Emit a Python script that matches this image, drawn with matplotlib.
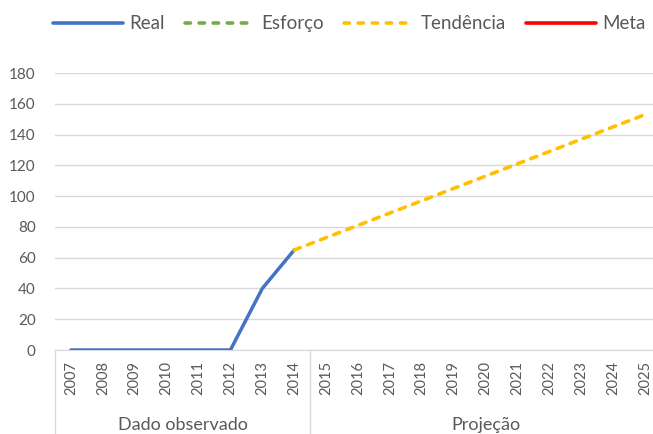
import matplotlib.pyplot as plt
from matplotlib.lines import Line2D

years = [str(y) for y in range(2007, 2026)]
real = [0, 0, 0, 0, 0, 0, 40, 65]
tendencia_years = years[7:]
tendencia = [65, 73, 81, 89, 97, 105, 113, 121, 129, 137, 145, 153]
esforco = []
meta = []
groups = [("Dado observado", 0, 7), ("Projeção", 8, 18)]

plt.rcParams["font.family"] = ["Lato", "DejaVu Sans"]
txt = "#595959"
grid = "#d9d9d9"

fig = plt.figure(figsize=(6.53, 4.34), dpi=100)
# plot area runs a little past the right edge, as in the source image
ax = fig.add_axes([55 / 653, 84 / 434, 606 / 653, 277 / 434])

x = list(range(len(years)))
ax.plot(x[:len(real)], real, color="#4472c4", lw=2.5, solid_capstyle="round", zorder=3)
tx = [years.index(y) for y in tendencia_years]
ax.plot(tx, tendencia, color="#ffc000", lw=2.6, dashes=(1.8, 2.1),
        dash_capstyle="round", zorder=3)
ax.plot(esforco, esforco, color="#70ad47")
ax.plot(meta, meta, color="#ff0000")

ax.set_xlim(-0.5, len(years) - 0.5)
ax.set_ylim(0, 180)
ax.set_yticks(range(0, 181, 20))
ax.yaxis.grid(True, color=grid, lw=1)
ax.set_axisbelow(True)
for s in ["top", "right", "left"]:
    ax.spines[s].set_visible(False)
ax.spines["bottom"].set_color(grid)
ax.tick_params(axis="y", length=0, labelsize=11, colors=txt, pad=14)
ax.set_xticks(x)
ax.set_xticklabels(years, rotation=90)
ax.tick_params(axis="x", length=0, labelsize=10.5, colors=txt, pad=8)

# group separators and labels under the axis
for name, a, b in groups:
    xa = a / len(years)
    xb = (b + 1) / len(years)
    ax.plot([xa, xa], [0, -0.31], transform=ax.transAxes, color=grid, lw=1,
            clip_on=False)
    ax.text((xa + xb) / 2, -0.272, name, transform=ax.transAxes, ha="center",
            va="center", fontsize=13, color=txt)

handles = [
    Line2D([], [], color="#4472c4", lw=2.6, solid_capstyle="round"),
    Line2D([], [], color="#70ad47", lw=2.6, dashes=(1.5, 2.4), dash_capstyle="round"),
    Line2D([], [], color="#ffc000", lw=2.6, dashes=(1.5, 2.4), dash_capstyle="round"),
    Line2D([], [], color="#ff0000", lw=2.6, solid_capstyle="round"),
]
labels = ["Real", "Esforço", "Tendência", "Meta"]
leg = fig.legend(handles, labels, loc="center", bbox_to_anchor=(0.535, 0.945), ncol=4,
                 frameon=False, fontsize=13.5, handlelength=3.7, columnspacing=1.1,
                 handletextpad=0.35)
for t in leg.get_texts():
    t.set_color(txt)

fig.savefig("out.png", dpi=100)
